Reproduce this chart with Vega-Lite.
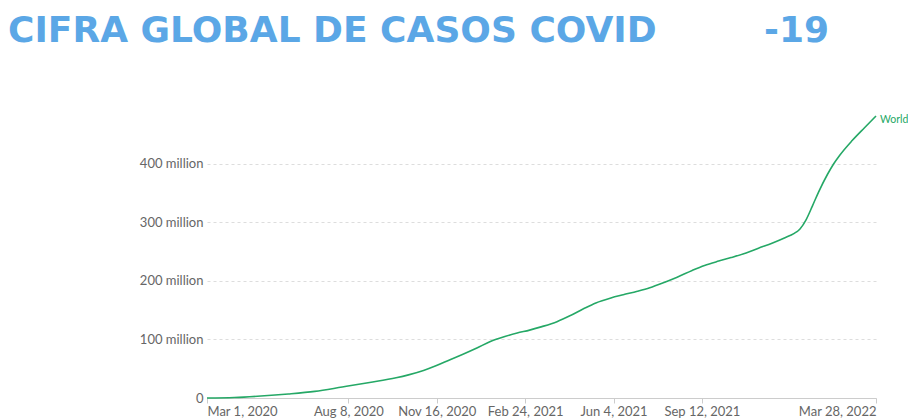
{
  "$schema": "https://vega.github.io/schema/vega-lite/v6.json",
  "autosize": "none",
  "width": 669,
  "height": 282,
  "padding": {"left": 207, "top": 116, "right": 32, "bottom": 20},
  "background": "white",
  "title": {
    "text": "CIFRA GLOBAL DE CASOS COVID\u00a0\u00a0\u00a0\u00a0\u00a0\u00a0\u00a0\u00a0\u2009-19",
    "anchor": "start",
    "frame": "group",
    "font": "DejaVu Sans",
    "fontWeight": "bold",
    "fontSize": 36,
    "color": "#5BA7E6",
    "dx": -199,
    "dy": -59
  },
  "config": {
    "view": {"stroke": null},
    "axis": {"labelFont": "Lato", "labelFontSize": 13, "labelColor": "#666666"}
  },
  "data": {
    "values": [
      {"date": "2020-03-01", "cases": 90000},
      {"date": "2020-04-01", "cases": 900000},
      {"date": "2020-05-01", "cases": 3300000},
      {"date": "2020-06-01", "cases": 6800000},
      {"date": "2020-07-01", "cases": 11300000},
      {"date": "2020-08-01", "cases": 18800000},
      {"date": "2020-09-01", "cases": 26500000},
      {"date": "2020-10-01", "cases": 34500000},
      {"date": "2020-10-15", "cases": 39500000},
      {"date": "2020-11-01", "cases": 47000000},
      {"date": "2020-11-15", "cases": 55000000},
      {"date": "2020-12-01", "cases": 65500000},
      {"date": "2020-12-15", "cases": 74500000},
      {"date": "2021-01-01", "cases": 86000000},
      {"date": "2021-01-15", "cases": 96000000},
      {"date": "2021-02-01", "cases": 105000000},
      {"date": "2021-02-15", "cases": 111000000},
      {"date": "2021-03-01", "cases": 116000000},
      {"date": "2021-03-15", "cases": 122000000},
      {"date": "2021-04-01", "cases": 130500000},
      {"date": "2021-04-15", "cases": 140000000},
      {"date": "2021-05-01", "cases": 152500000},
      {"date": "2021-05-15", "cases": 162500000},
      {"date": "2021-06-01", "cases": 171000000},
      {"date": "2021-06-15", "cases": 176500000},
      {"date": "2021-07-01", "cases": 182500000},
      {"date": "2021-07-15", "cases": 188500000},
      {"date": "2021-08-01", "cases": 198000000},
      {"date": "2021-08-15", "cases": 206500000},
      {"date": "2021-09-01", "cases": 218000000},
      {"date": "2021-09-15", "cases": 226500000},
      {"date": "2021-10-01", "cases": 234000000},
      {"date": "2021-10-15", "cases": 240000000},
      {"date": "2021-11-01", "cases": 248000000},
      {"date": "2021-11-15", "cases": 256000000},
      {"date": "2021-12-01", "cases": 265000000},
      {"date": "2021-12-15", "cases": 274000000},
      {"date": "2021-12-25", "cases": 281000000},
      {"date": "2022-01-01", "cases": 289000000},
      {"date": "2022-01-08", "cases": 305000000},
      {"date": "2022-01-15", "cases": 328000000},
      {"date": "2022-01-22", "cases": 352000000},
      {"date": "2022-02-01", "cases": 382000000},
      {"date": "2022-02-08", "cases": 400000000},
      {"date": "2022-02-15", "cases": 415000000},
      {"date": "2022-03-01", "cases": 440000000},
      {"date": "2022-03-15", "cases": 462000000},
      {"date": "2022-03-28", "cases": 482000000}
    ]
  },
  "encoding": {
    "x": {
      "field": "date",
      "type": "temporal",
      "scale": {
        "type": "utc",
        "domain": [
          {"year": 2020, "month": 3, "date": 1, "utc": true},
          {"year": 2022, "month": 3, "date": 28, "utc": true}
        ]
      },
      "axis": {
        "title": null,
        "values": [
          {"year": 2020, "month": 3, "date": 1, "utc": true},
          {"year": 2020, "month": 8, "date": 8, "utc": true},
          {"year": 2020, "month": 11, "date": 16, "utc": true},
          {"year": 2021, "month": 2, "date": 24, "utc": true},
          {"year": 2021, "month": 6, "date": 4, "utc": true},
          {"year": 2021, "month": 9, "date": 12, "utc": true},
          {"year": 2022, "month": 3, "date": 28, "utc": true}
        ],
        "format": "%b %-d, %Y",
        "labelFlush": true,
        "labelOverlap": false,
        "grid": false,
        "domainColor": "#cccccc",
        "tickColor": "#cccccc",
        "tickSize": 5,
        "labelPadding": 2
      }
    },
    "y": {
      "field": "cases",
      "type": "quantitative",
      "scale": {"domain": [0, 482000000], "nice": false},
      "axis": {
        "title": null,
        "values": [0, 100000000, 200000000, 300000000, 400000000],
        "labelExpr": "datum.value == 0 ? '0' : format(datum.value / 1000000, 'd') + ' million'",
        "domain": false,
        "ticks": false,
        "labelPadding": 4,
        "gridColor": "#dddddd",
        "gridDash": [3, 3]
      }
    }
  },
  "layer": [
    {
      "mark": {"type": "line", "color": "#25A866", "strokeWidth": 1.6, "interpolate": "monotone"}
    },
    {
      "transform": [{"filter": "datum.cases == 482000000"}],
      "mark": {"type": "text", "text": "World", "align": "left", "baseline": "middle", "dx": 4, "dy": 4, "font": "Lato", "fontSize": 10.5, "color": "#25A866"}
    }
  ]
}
